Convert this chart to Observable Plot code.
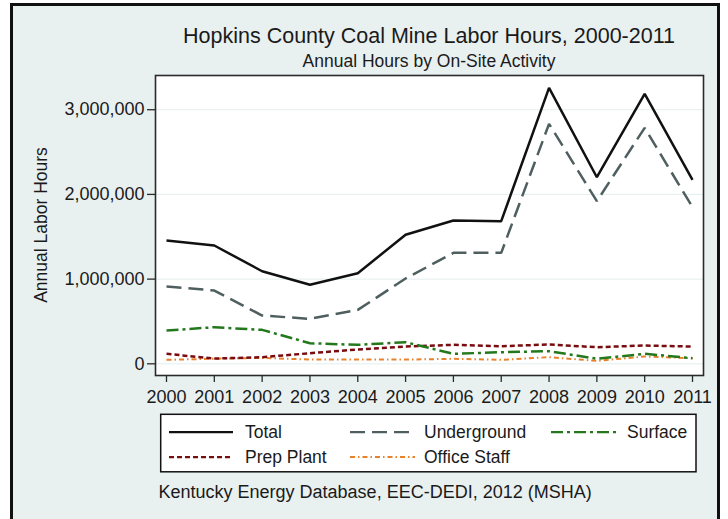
<!DOCTYPE html>
<html><head><meta charset="utf-8">
<script src="https://cdn.jsdelivr.net/npm/d3@7"></script>
<script src="https://cdn.jsdelivr.net/npm/@observablehq/plot@0.6"></script>
<style>
html,body{margin:0;padding:0;background:#fff;}
#page{position:relative;width:728px;height:519px;overflow:hidden;font-family:"Liberation Sans",Arial,sans-serif;}
#panel{position:absolute;left:10px;top:3px;width:710px;height:560px;border:3px solid #111;background:#e9f0f0;box-sizing:border-box;}
#chart{position:absolute;left:0;top:0;}
#overlay{position:absolute;left:0;top:0;}
</style></head>
<body><div id="page"><div id="panel"></div><div id="chart"></div><svg id="overlay" width="728" height="519"></svg></div>
<script>
const years = [2000, 2001, 2002, 2003, 2004, 2005, 2006, 2007, 2008, 2009, 2010, 2011];
const total = [1456000, 1397000, 1093000, 933000, 1070000, 1523000, 1692000, 1684000, 3258000, 2203000, 3188000, 2172000];
const underground = [913000, 865000, 570000, 531000, 637000, 1007000, 1310000, 1310000, 2833000, 1920000, 2786000, 1849000];
const surface = [393000, 432000, 401000, 243000, 224000, 255000, 118000, 137000, 149000, 59000, 118000, 66000];
const prepPlant = [118000, 62000, 78000, 125000, 169000, 204000, 224000, 208000, 228000, 196000, 216000, 204000];
const officeStaff = [47000, 60000, 70000, 50000, 50000, 50000, 59000, 47000, 78000, 35000, 86000, 66000];
const seriesNames = ["Total", "Underground", "Surface", "Prep Plant", "Office Staff"];
const seriesValues = [total, underground, surface, prepPlant, officeStaff];
const yTicks = [0, 1000000, 2000000, 3000000];
const titleText = "Hopkins County Coal Mine Labor Hours, 2000-2011";
const subtitleText = "Annual Hours by On-Site Activity";
const yLabelText = "Annual Labor Hours";
const captionText = "Kentucky Energy Database, EEC-DEDI, 2012 (MSHA)";

const styles = {
  "Total": {stroke: "#111111", dash: null, width: 2.5},
  "Underground": {stroke: "#4f5f5f", dash: "15,7", width: 2.5},
  "Surface": {stroke: "#23781c", dash: "12,4,3,4", width: 2.5},
  "Prep Plant": {stroke: "#7a0c10", dash: "5,3", width: 2.5},
  "Office Staff": {stroke: "#e8812c", dash: "5,3,1.5,3", width: 2}
};

const rows = [];
seriesNames.forEach((s, i) => years.forEach((y, j) => rows.push({series: s, year: y, value: seriesValues[i][j]})));

const font = '"Liberation Sans", Arial, sans-serif';
const lineMarks = seriesNames.slice().reverse().map(s => Plot.line(rows.filter(r => r.series === s), {
  x: "year", y: "value", stroke: styles[s].stroke, strokeWidth: styles[s].width,
  strokeDasharray: styles[s].dash || undefined, strokeLinejoin: "miter", strokeLinecap: "butt"
}));

const chart = Plot.plot({
  width: 728, height: 519,
  marginLeft: 155, marginRight: 25, marginTop: 75, marginBottom: 144,
  style: {background: "transparent", fontFamily: font, fontSize: "18px", color: "#1a1a1a", overflow: "visible"},
  x: {domain: [2000, 2011], insetLeft: 11, insetRight: 11},
  y: {domain: [-138000, 3404000]},
  marks: [
    Plot.frame({fill: "white", stroke: null}),
    Plot.gridY(yTicks, {stroke: "#e4eeee", strokeOpacity: 1, strokeWidth: 1}),
    ...lineMarks,
    Plot.frame({stroke: "#2a2a2a", strokeWidth: 1.6}),
    Plot.axisY(yTicks, {tickSize: 8, tickPadding: 3, tickFormat: d3.format(","), label: null, stroke: "#2a2a2a", strokeWidth: 1.3}),
    Plot.axisX(years, {tickSize: 7, tickPadding: 8, tickFormat: d => String(d), label: null, stroke: "#2a2a2a", strokeWidth: 1.3})
  ]
});
document.getElementById("chart").appendChild(chart);

const ov = d3.select("#overlay").style("font-family", font).style("fill", "#1a1a1a");
ov.append("text").attr("x", 429).attr("y", 42.5).attr("text-anchor", "middle").style("font-size", "21.5px").text(titleText);
ov.append("text").attr("x", 429).attr("y", 66.5).attr("text-anchor", "middle").style("font-size", "17.5px").text(subtitleText);
ov.append("text").attr("transform", "translate(46.5,225) rotate(-90)").attr("text-anchor", "middle").style("font-size", "17.5px").text(yLabelText);

// legend
ov.append("rect").attr("x", 160.7).attr("y", 414.3).attr("width", 535.3).attr("height", 57.5)
  .attr("fill", "white").attr("stroke", "#111").attr("stroke-width", 1.5);
const legendCols = [[169, 233, 245], [350, 415, 424], [551, 618, 627]];
const legendRows = [432, 457];
seriesNames.forEach((s, i) => {
  const c = legendCols[i % 3], ry = legendRows[Math.floor(i / 3)];
  const ln = ov.append("line").attr("x1", c[0]).attr("x2", c[1]).attr("y1", ry).attr("y2", ry)
    .attr("stroke", styles[s].stroke).attr("stroke-width", styles[s].width * 0.9);
  if (styles[s].dash) ln.attr("stroke-dasharray", styles[s].dash);
  ov.append("text").attr("x", c[2]).attr("y", ry + 6).style("font-size", "17.5px").text(s);
});
ov.append("text").attr("x", 158.5).attr("y", 498).style("font-size", "18px").text(captionText);
</script></body></html>
